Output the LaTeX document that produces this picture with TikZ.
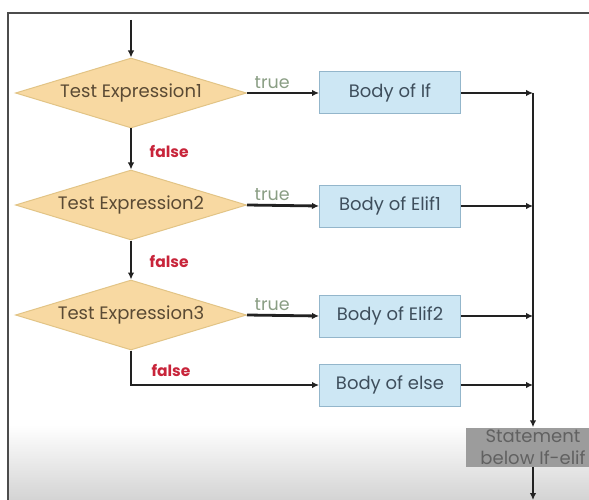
\documentclass[tikz,border=0pt]{standalone}
\usepackage{fontspec}
\setmainfont{Poppins}
\usetikzlibrary{shapes.geometric,arrows.meta}
\definecolor{decfill}{HTML}{F8D9A2}
\definecolor{decline}{HTML}{E2C486}
\definecolor{boxfill}{HTML}{CDE7F4}
\definecolor{boxline}{HTML}{93B6CB}
\definecolor{stmtfill}{HTML}{9C9C9C}
\definecolor{dectext}{HTML}{5A4A34}
\definecolor{boxtext}{HTML}{3E4E5C}
\definecolor{truecol}{HTML}{8A9E84}
\definecolor{falsecol}{HTML}{C8243A}
\definecolor{flow}{HTML}{222222}
\begin{document}
\begin{tikzpicture}[x=1pt,y=-1pt,
  font=\fontsize{18}{20}\selectfont,
  decision/.style={diamond,draw=decline,line width=1pt,fill=decfill,inner sep=0pt,
    aspect=3.3,minimum width=231pt,minimum height=70pt,text=dectext},
  body/.style={rectangle,draw=boxline,line width=1pt,fill=boxfill,inner sep=0pt,
    minimum width=141pt,minimum height=42pt,text=boxtext},
  stmt/.style={rectangle,fill=stmtfill,minimum width=134pt,minimum height=39pt,inner sep=0pt,
    align=center,text=black!62,font=\fontsize{18}{22}\selectfont},
  flowline/.style={draw=flow,line width=2.8pt},
  flowarrow/.style={flowline,-{Latex[length=7pt,width=6.5pt]}},
  truelbl/.style={text=truecol,font=\fontsize{17.5}{20}\selectfont},
  falselbl/.style={text=falsecol,font=\bfseries\fontsize{15.5}{18}\selectfont}]
  \useasboundingbox (0,0) rectangle (589,500);
  \clip (0,0) rectangle (589,500);

  % background: soft shade at the bottom and the outer frame
  \fill[white] (0,0) rectangle (589,500);
  \shade[top color=white,bottom color=black!17] (9,425) rectangle (589,500);
  \draw[black!70,line width=1.6pt] (8,500) -- (8,13) -- (600,13);

  % decisions
  \node[decision] (d1) at (131,93) {Test Expression1};
  \node[decision] (d2) at (131,205) {Test Expression2};
  \node[decision] (d3) at (131,315) {Test Expression3};

  % bodies
  \node[body] (b1) at (390,93) {Body of If};
  \node[body] (b2) at (390,206) {Body of Elif1};
  \node[body] (b3) at (390,316) {Body of Elif2};
  \node[body] (b4) at (390,385) {Body of else};

  % statement after the chain
  \node[stmt] (st) at (533,447) {Statement\\below If-elif};

  \coordinate (entry) at (131,20);
  \coordinate (rail) at (533,93);
  \coordinate (exit) at (533,500);

  % flow through the tests
  \draw[flowarrow] (entry) -- (d1.north);
  \draw[flowarrow] (d1.south) -- node[falselbl,right=14pt,pos=0.55]{false} (d2.north);
  \draw[flowarrow] (d2.south) -- node[falselbl,right=14pt,pos=0.55]{false} (d3.north);
  \draw[flowarrow] (d3.south) |- (b4.west);
  \node[falselbl] (f3) at (171,370) {false};

  % true branches
  \draw[flowarrow] (d1.east) -- node[truelbl,above=0pt,pos=0.35]{true} (b1.west);
  \draw[flowarrow] (d2.east) -- node[truelbl,above=0pt,pos=0.35]{true} (b2.west);
  \draw[flowarrow] (d3.east) -- node[truelbl,above=0pt,pos=0.35]{true} (b3.west);

  % bodies join the rail
  \draw[flowarrow] (b1.east) -- (b1.east -| rail);
  \draw[flowarrow] (b2.east) -- (b2.east -| rail);
  \draw[flowarrow] (b3.east) -- (b3.east -| rail);
  \draw[flowarrow] (b4.east) -- (b4.east -| rail);
  \draw[flowarrow] (rail) -- (st.north);
  \draw[flowarrow] (st.south) -- (exit);
\end{tikzpicture}
\end{document}
